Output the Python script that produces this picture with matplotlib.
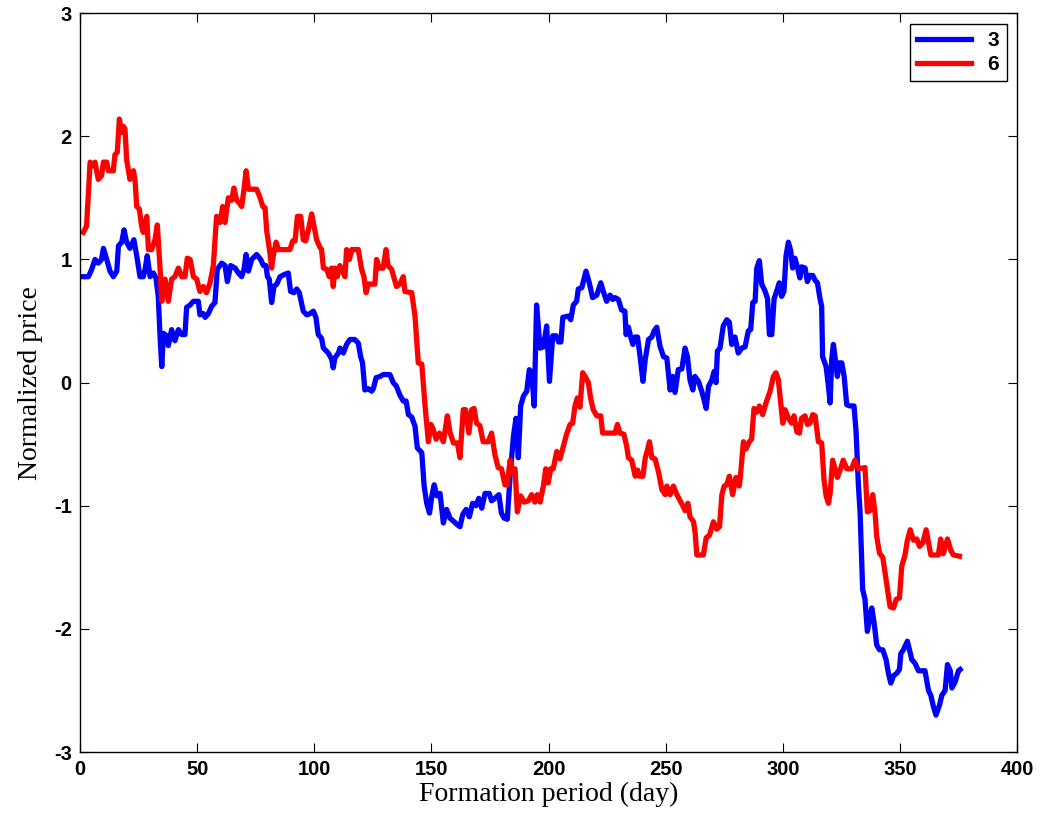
import matplotlib.pyplot as plt

plt.rcParams['axes.unicode_minus'] = False

# series "3" (blue): day, normalized price
days_3 = [1.4, 3.6, 5.0, 6.4, 7.8, 9.2, 10.0, 11.4, 12.8, 14.2, 15.7, 16.4, 17.8, 18.8, 19.9,
          21.3, 23.0, 24.2, 25.6, 27.0, 27.8, 28.7, 29.9, 31.3, 32.4, 33.4, 34.1, 34.9, 35.6,
          37.0, 37.7, 39.1, 40.5, 42.0, 43.4, 44.8, 45.5, 47.0, 48.4, 50.5, 51.2, 52.6, 53.4,
          54.8, 56.2, 57.6, 58.6, 60.5, 61.9, 62.9, 64.3, 66.2, 67.6, 69.0, 70.0, 70.9, 71.9,
          73.3, 75.4, 77.1, 78.3, 79.4, 80.0, 80.8, 81.8, 82.8, 84.0, 85.4, 87.5, 88.9, 89.9,
          91.3, 92.5, 93.6, 95.3, 96.8, 98.2, 99.6, 100.7, 101.7, 103.1, 103.9, 106.0, 107.4,
          108.1, 108.8, 110.3, 111.0, 112.4, 113.8, 115.2, 117.3, 118.8, 119.8, 120.6, 121.6,
          123.1, 124.5, 125.2, 126.4, 128.1, 129.4, 132.3, 133.7, 135.1, 136.5, 138.0, 139.2,
          140.2, 141.6, 143.0, 144.0, 145.9, 146.9, 148.0, 149.2, 150.2, 151.2, 152.3, 153.7,
          155.1, 156.5, 157.9, 159.7, 161.1, 162.2, 163.4, 164.8, 166.2, 167.6, 169.0, 170.2,
          171.5, 172.9, 174.7, 175.7, 177.1, 178.8, 179.9, 181.0, 182.4, 183.6, 185.0, 186.1,
          187.1, 188.1, 189.3, 190.7, 191.8, 192.8, 193.9, 194.9, 196.4, 197.8, 199.2, 200.4,
          201.8, 203.3, 204.3, 205.3, 206.1, 208.5, 209.5, 210.6, 212.0, 212.7, 214.2, 216.0,
          217.4, 218.8, 220.6, 222.3, 223.4, 224.8, 226.3, 227.4, 228.4, 229.8, 231.2, 232.6,
          233.1, 234.1, 235.1, 236.0, 237.0, 238.0, 239.1, 240.3, 241.3, 242.7, 244.1, 245.1,
          246.2, 247.6, 249.1, 250.5, 251.9, 253.0, 254.0, 255.4, 256.9, 258.3, 259.3, 260.4,
          261.6, 262.5, 264.0, 265.4, 266.4, 267.3, 268.3, 269.7, 270.7, 271.5, 272.1, 273.2,
          274.6, 276.1, 277.2, 278.2, 279.6, 281.0, 282.5, 283.9, 285.3, 286.3, 287.2, 288.2,
          288.9, 290.0, 291.0, 292.5, 293.5, 294.3, 295.3, 296.3, 297.7, 298.5, 299.5, 300.5,
          301.4, 302.4, 303.4, 304.2, 305.2, 306.2, 307.3, 308.0, 309.5, 310.5, 311.6, 312.8,
          313.8, 314.8, 315.9, 316.6, 317.0, 318.5, 319.5, 320.2, 320.9, 321.6, 322.3, 323.3,
          324.2, 325.2, 326.2, 327.3, 328.7, 330.4, 331.3, 332.3, 333.0, 334.1, 335.1, 336.1,
          337.0, 338.0, 339.0, 340.1, 341.3, 342.7, 344.1, 345.1, 346.1, 347.3, 348.7, 349.8,
          350.4, 351.5, 353.2, 355.1, 356.5, 357.9, 360.7, 362.2, 363.2, 364.3, 365.4, 366.9,
          367.9, 369.3, 370.3, 371.5, 372.2, 373.6, 375.0, 375.7]
price_3 = [0.86, 0.86, 0.92, 1.00, 0.97, 1.00, 1.09, 1.00, 0.905, 0.86, 0.905, 1.11, 1.14, 1.24, 1.14,
           1.09, 1.16, 1.03, 0.86, 0.86, 0.92, 1.03, 0.86, 0.89, 0.85, 0.70, 0.40, 0.13, 0.40,
           0.38, 0.30, 0.43, 0.34, 0.43, 0.39, 0.39, 0.61, 0.63, 0.66, 0.66, 0.55, 0.56, 0.53,
           0.56, 0.62, 0.65, 0.92, 0.97, 0.95, 0.82, 0.95, 0.93, 0.89, 0.86, 0.92, 1.04, 0.905,
           1.00, 1.04, 1.00, 0.95, 0.95, 0.86, 0.84, 0.65, 0.78, 0.80, 0.86, 0.88, 0.89, 0.74,
           0.73, 0.76, 0.73, 0.58, 0.55, 0.56, 0.58, 0.53, 0.39, 0.36, 0.28, 0.24, 0.19,
           0.12, 0.20, 0.24, 0.28, 0.24, 0.31, 0.35, 0.35, 0.32, 0.21, 0.16, -0.06,
           -0.05, -0.07, -0.05, 0.04, 0.05, 0.065, 0.065, 0.0, -0.03, -0.10, -0.15, -0.15,
           -0.26, -0.28, -0.355, -0.53, -0.57, -0.84, -0.98, -1.06, -0.92, -0.83, -0.92, -0.90,
           -1.14, -1.03, -1.10, -1.13, -1.155, -1.17, -1.07, -1.03, -1.09, -0.98, -1.00, -0.94,
           -1.02, -0.90, -0.90, -0.96, -0.94, -0.91, -1.06, -1.10, -1.11, -0.76, -0.44, -0.29,
           -0.61, -0.19, -0.11, -0.07, 0.105, 0.08, -0.19, 0.63, 0.28, 0.29, 0.46, 0.01,
           0.38, 0.38, 0.33, 0.33, 0.53, 0.54, 0.51, 0.63, 0.66, 0.76, 0.77, 0.905,
           0.81, 0.69, 0.71, 0.81, 0.74, 0.66, 0.71, 0.675, 0.69, 0.675, 0.59, 0.58,
           0.39, 0.45, 0.37, 0.31, 0.37, 0.37, 0.21, 0.01, 0.19, 0.35, 0.37, 0.42,
           0.45, 0.295, 0.21, 0.20, -0.06, 0.05, -0.08, 0.105, 0.11, 0.28, 0.21, 0.02,
           -0.06, 0.05, 0.01, -0.07, -0.14, -0.21, -0.03, 0.02, 0.09, 0.0, 0.255, 0.28,
           0.46, 0.51, 0.49, 0.31, 0.37, 0.24, 0.28, 0.29, 0.42, 0.43, 0.65, 0.66,
           0.93, 0.99, 0.80, 0.74, 0.68, 0.39, 0.39, 0.68, 0.76, 0.81, 0.70, 0.74,
           1.03, 1.14, 1.07, 0.93, 1.01, 0.94, 0.85, 0.94, 0.93, 0.82, 0.87, 0.87,
           0.83, 0.81, 0.68, 0.62, 0.21, 0.13, -0.03, -0.165, 0.19, 0.31, 0.21, 0.05,
           0.16, 0.16, 0.05, -0.18, -0.19, -0.19, -0.40, -0.84, -1.05, -1.68, -1.76, -2.02,
           -1.93, -1.83, -1.95, -2.13, -2.17, -2.17, -2.25, -2.36, -2.44, -2.38, -2.36, -2.33,
           -2.20, -2.17, -2.10, -2.25, -2.28, -2.34, -2.34, -2.50, -2.54, -2.63, -2.70, -2.62,
           -2.54, -2.50, -2.29, -2.34, -2.48, -2.43, -2.34, -2.33]

# series "6" (red)
days_6 = [1.4, 2.8, 4.3, 5.7, 6.4, 7.8, 9.2, 10.0, 11.4, 12.1, 14.2, 14.9, 15.9, 16.8, 17.8,
          18.5, 19.2, 19.9, 21.3, 22.8, 23.5, 24.2, 25.3, 26.3, 27.0, 28.5, 29.2, 30.6, 32.0,
          33.0, 34.1, 34.9, 36.3, 37.7, 39.1, 40.5, 42.0, 43.4, 44.8, 45.8, 47.0, 48.4, 49.8,
          51.2, 52.6, 54.0, 55.5, 56.9, 58.3, 59.8, 60.9, 61.9, 63.3, 64.7, 65.7, 66.9, 68.3,
          69.0, 70.0, 70.9, 71.9, 75.4, 76.9, 78.0, 79.0, 79.7, 81.1, 81.8, 82.5, 83.7, 84.7,
          89.6, 90.8, 91.8, 92.8, 94.2, 95.3, 96.3, 97.5, 98.9, 99.9, 101.0, 102.4, 103.1,
          103.9, 105.3, 106.4, 107.4, 108.1, 108.8, 109.8, 110.9, 112.4, 113.1, 113.8, 115.0,
          116.0, 118.8, 120.2, 121.2, 122.1, 123.1, 125.9, 126.6, 127.7, 129.4, 130.6, 131.5,
          133.0, 135.1, 136.5, 138.0, 138.7, 141.6, 143.0, 144.4, 145.9, 147.3, 148.7, 149.8,
          150.8, 152.0, 153.4, 155.1, 156.8, 157.9, 159.4, 161.1, 162.2, 163.6, 164.6, 166.0,
          167.2, 168.2, 169.3, 170.7, 172.1, 174.3, 175.7, 177.1, 178.5, 179.9, 181.4, 182.4,
          183.6, 184.7, 185.7, 186.7, 188.1, 189.6, 191.4, 192.8, 194.2, 195.2, 196.4, 197.8,
          198.8, 199.9, 200.9, 202.0, 203.5, 204.9, 206.3, 207.7, 209.2, 210.3, 211.3, 212.3,
          213.4, 214.6, 215.6, 217.0, 218.0, 219.1, 220.6, 222.3, 223.1, 228.4, 229.4, 230.5,
          232.2, 233.4, 234.1, 235.5, 237.0, 238.0, 238.8, 240.3, 241.3, 242.3, 243.1, 244.1,
          245.5, 247.0, 248.4, 249.8, 250.5, 251.9, 253.3, 254.8, 255.9, 257.3, 258.3, 259.5,
          260.4, 261.9, 262.6, 263.3, 266.1, 267.3, 268.7, 270.4, 271.8, 273.0, 274.0, 275.0,
          276.1, 277.2, 278.6, 280.0, 281.4, 282.0, 283.2, 284.3, 285.7, 286.7, 287.7, 288.9,
          290.0, 291.4, 292.9, 294.6, 296.0, 297.1, 298.1, 299.1, 300.0, 301.0, 302.4, 303.8,
          304.8, 306.0, 307.1, 308.0, 309.5, 310.5, 311.6, 312.8, 313.8, 315.2, 316.6, 317.6,
          318.5, 319.5, 320.2, 321.3, 322.3, 323.3, 324.7, 325.8, 327.3, 329.4, 330.8, 332.3,
          335.1, 336.1, 337.2, 338.4, 339.4, 340.1, 341.3, 342.7, 344.1, 345.8, 347.3, 348.4,
          349.8, 350.8, 352.2, 353.2, 354.4, 355.8, 357.2, 358.4, 359.8, 361.2, 362.2, 363.2,
          366.4, 367.4, 368.5, 370.3, 371.7, 372.8, 375.4]
price_6 = [1.22, 1.27, 1.79, 1.76, 1.79, 1.65, 1.68, 1.79, 1.79, 1.72, 1.72, 1.85, 1.87, 2.14, 2.03,
           2.08, 2.06, 1.81, 1.65, 1.72, 1.64, 1.43, 1.41, 1.27, 1.22, 1.35, 1.08, 1.08, 1.16,
           1.28, 0.95, 0.66, 0.84, 0.66, 0.84, 0.86, 0.93, 0.86, 0.86, 1.01, 1.00, 0.86, 0.84,
           0.74, 0.78, 0.73, 0.81, 0.95, 1.35, 1.30, 1.43, 1.30, 1.50, 1.48, 1.58, 1.48, 1.45,
           1.43, 1.57, 1.72, 1.57, 1.57, 1.50, 1.43, 1.42, 1.23, 1.05, 0.93, 1.03, 1.14, 1.08,
           1.08, 1.15, 1.15, 1.35, 1.35, 1.16, 1.15, 1.24, 1.37, 1.27, 1.16, 1.10, 1.08,
           0.93, 0.92, 0.86, 0.93, 0.78, 0.93, 0.86, 0.95, 0.89, 0.86, 1.08, 1.00,
           1.08, 1.08, 0.92, 0.86, 0.73, 0.80, 0.80, 1.00, 0.93, 0.93, 1.08, 0.95,
           0.92, 0.78, 0.80, 0.86, 0.74, 0.73, 0.54, 0.16, 0.15, -0.19, -0.48, -0.34,
           -0.38, -0.46, -0.41, -0.48, -0.27, -0.40, -0.49, -0.49, -0.61, -0.22, -0.22, -0.41,
           -0.22, -0.21, -0.33, -0.35, -0.48, -0.48, -0.41, -0.585, -0.69, -0.70, -0.83, -0.83,
           -0.63, -0.73, -0.70, -1.05, -0.92, -0.97, -0.96, -0.91, -0.97, -0.91, -0.97, -0.84,
           -0.70, -0.815, -0.70, -0.70, -0.56, -0.62, -0.52, -0.42, -0.34, -0.33, -0.19, -0.125,
           -0.20, 0.08, 0.05, 0.0, -0.13, -0.22, -0.27, -0.27, -0.41, -0.41, -0.34, -0.41,
           -0.42, -0.52, -0.61, -0.63, -0.76, -0.71, -0.76, -0.76, -0.61, -0.545, -0.48, -0.61,
           -0.62, -0.73, -0.87, -0.91, -0.84, -0.91, -0.84, -0.91, -0.95, -1.00, -1.04, -0.98,
           -1.09, -1.13, -1.22, -1.40, -1.40, -1.26, -1.24, -1.13, -1.19, -1.17, -0.91, -0.84,
           -0.83, -0.76, -0.91, -0.77, -0.84, -0.74, -0.48, -0.54, -0.48, -0.46, -0.21, -0.24,
           -0.19, -0.26, -0.16, -0.07, 0.05, 0.08, 0.025, -0.16, -0.33, -0.22, -0.29, -0.33,
           -0.27, -0.40, -0.41, -0.29, -0.27, -0.34, -0.33, -0.26, -0.27, -0.48, -0.49, -0.79,
           -0.92, -0.98, -0.90, -0.63, -0.70, -0.77, -0.70, -0.63, -0.70, -0.70, -0.63, -0.70,
           -0.69, -1.05, -1.04, -0.91, -1.06, -1.25, -1.385, -1.42, -1.60, -1.82, -1.83, -1.76,
           -1.75, -1.49, -1.40, -1.28, -1.195, -1.28, -1.27, -1.33, -1.30, -1.195, -1.30, -1.40,
           -1.40, -1.27, -1.39, -1.27, -1.36, -1.40, -1.41]

x_ticks = [0, 50, 100, 150, 200, 250, 300, 350, 400]
y_ticks = [-3, -2, -1, 0, 1, 2, 3]

fig = plt.figure(figsize=(10.46, 8.21), dpi=100)
ax = fig.add_axes([0.0765, 0.084, 0.8958, 0.9])

ax.plot(days_3, price_3, color='#0000ff', lw=3.8, label='3')
ax.plot(days_6, price_6, color='#ff0000', lw=3.8, label='6')

ax.set_xlim(0, 400)
ax.set_ylim(-3, 3)
ax.set_xticks(x_ticks)
ax.set_yticks(y_ticks)
ax.tick_params(direction='in', length=6.5, width=0.8, top=True, right=True, pad=6)
for lab in ax.get_xticklabels() + ax.get_yticklabels():
    lab.set_fontfamily('Liberation Sans')
    lab.set_fontweight('bold')
    lab.set_fontsize(14.5)
for sp in ax.spines.values():
    sp.set_linewidth(1.0)

ax.set_xlabel('Formation period (day)', family='Liberation Serif', fontsize=20, labelpad=2)
ax.set_ylabel('Normalized price', family='Liberation Serif', fontsize=20, labelpad=8)

leg = ax.legend(loc='upper right', fancybox=False, framealpha=1, edgecolor='black',
                prop={'family': 'Liberation Sans', 'weight': 'bold', 'size': 15},
                handlelength=2.6, borderaxespad=0.5, labelspacing=0.25, borderpad=0.35)
leg.get_frame().set_linewidth(1.0)

fig.savefig('out.png', dpi=100)
